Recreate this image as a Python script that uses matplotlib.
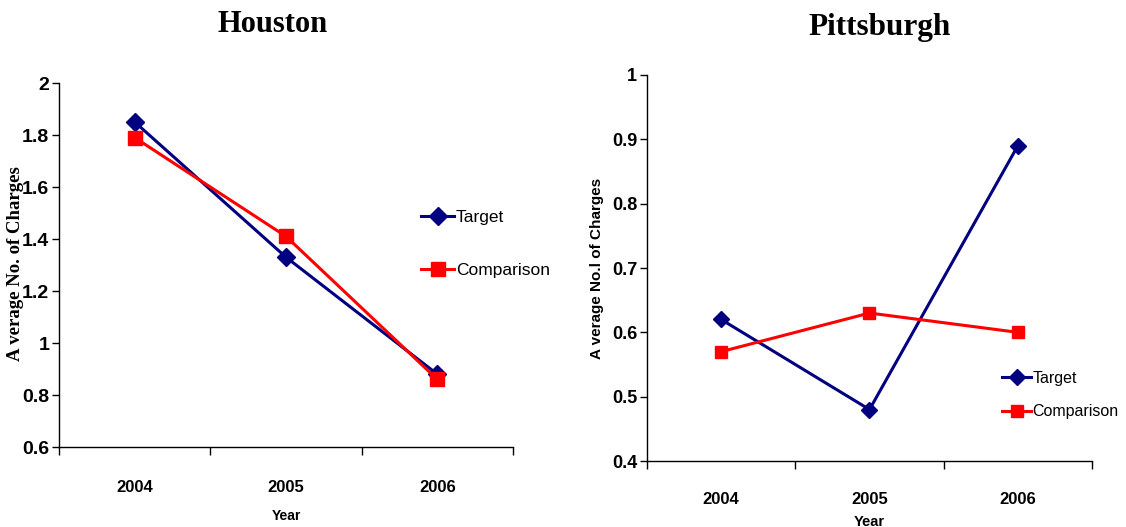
import matplotlib
matplotlib.use("Agg")
import matplotlib.pyplot as plt

# Average number of charges per year, two cities
years = ["2004", "2005", "2006"]
houston_target = [1.85, 1.33, 0.88]
houston_comparison = [1.79, 1.41, 0.86]
pitt_target = [0.62, 0.48, 0.89]
pitt_comparison = [0.57, 0.63, 0.60]

NAVY = "#000080"
RED = "#ff0000"
SANS = "Liberation Sans"
SERIF = "Liberation Serif"

fig = plt.figure(figsize=(11.26, 5.27), dpi=100)
ax1 = fig.add_axes([0.0524, 0.1518, 0.4032, 0.6907])
ax2 = fig.add_axes([0.5746, 0.1252, 0.3952, 0.7325])

def style_axes(ax, ylim, yticks, ytick_size, xpad):
    x = [1, 2, 3]
    ax.set_xlim(0.5, 3.5)
    ax.set_ylim(*ylim)
    ax.set_yticks(yticks)
    ax.set_yticklabels([("%g" % v) for v in yticks], fontfamily=SANS,
                       fontweight="bold", fontsize=ytick_size)
    # category boundaries carry the ticks, labels sit in between
    ax.set_xticks([0.5, 1.5, 2.5, 3.5])
    ax.set_xticklabels([])
    ax.set_xticks(x, minor=True)
    ax.set_xticklabels(years, minor=True, fontfamily=SANS,
                       fontweight="bold", fontsize=12)
    ax.tick_params(axis="x", which="minor", length=0, pad=xpad)
    ax.tick_params(axis="x", which="major", length=6, direction="out", width=1)
    ax.tick_params(axis="y", length=5, direction="out", width=1, pad=2)
    for s in ("top", "right"):
        ax.spines[s].set_visible(False)
    for s in ("left", "bottom"):
        ax.spines[s].set_linewidth(1)
    return x

# Houston
x = style_axes(ax1, (0.6, 2.0), [0.6, 0.8, 1.0, 1.2, 1.4, 1.6, 1.8, 2.0], 14, 24)
ax1.plot(x, houston_target, color=NAVY, lw=2.2, marker="D", ms=9, label="Target")
ax1.plot(x, houston_comparison, color=RED, lw=2.2, marker="s", ms=10, label="Comparison")
fig.text(0.2425, 0.9526, "Houston", fontfamily=SERIF, fontweight="bold",
         fontsize=22, ha="center", va="center")
ax1.set_xlabel("Year", fontfamily=SANS, fontweight="bold", fontsize=10, labelpad=10)
ax1.yaxis.set_label_coords(0.021, 0.5, transform=fig.transFigure)
ax1.set_ylabel("A verage No. of Charges", fontfamily=SERIF, fontweight="bold",
               fontsize=13.5)
ax1.legend(loc="center left", bbox_to_anchor=(0.374, 0.537), bbox_transform=fig.transFigure,
           frameon=False, prop={"family": SANS, "size": 12.5}, handlelength=1.9,
           handletextpad=0.1, labelspacing=2.15, borderaxespad=0, borderpad=0)

# Pittsburgh
x = style_axes(ax2, (0.4, 1.0), [0.4, 0.5, 0.6, 0.7, 0.8, 0.9, 1.0], 13, 22)
ax2.plot(x, pitt_target, color=NAVY, lw=2.2, marker="D", ms=8, label="Target")
ax2.plot(x, pitt_comparison, color=RED, lw=2.2, marker="s", ms=9, label="Comparison")
fig.text(0.7815, 0.947, "Pittsburgh", fontfamily=SERIF, fontweight="bold",
         fontsize=22.5, ha="center", va="center")
ax2.set_xlabel("Year", fontfamily=SANS, fontweight="bold", fontsize=10.5, labelpad=6)
ax2.set_ylabel("A verage No.l of Charges", fontfamily=SANS, fontweight="bold",
               fontsize=11, labelpad=6)
ax2.legend(loc="center left", bbox_to_anchor=(0.89, 0.25), bbox_transform=fig.transFigure,
           frameon=False, prop={"family": SANS, "size": 11.5}, handlelength=1.8,
           handletextpad=0.1, labelspacing=1.15, borderaxespad=0, borderpad=0)

fig.savefig("out.png", dpi=100)
